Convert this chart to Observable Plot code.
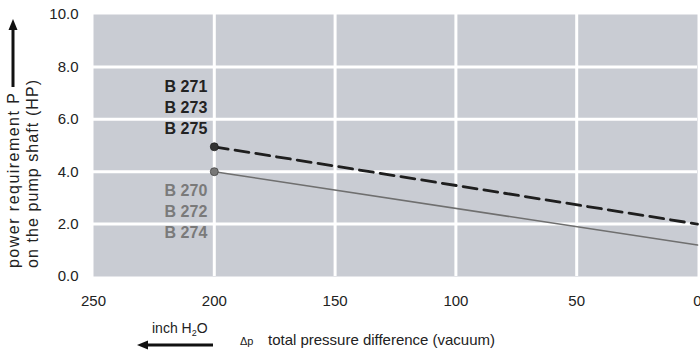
<!DOCTYPE html>
<html><head><meta charset="utf-8">
<script src="https://cdn.jsdelivr.net/npm/d3@7"></script>
<script src="https://cdn.jsdelivr.net/npm/@observablehq/plot@0.6"></script>
<style>body{margin:0;background:#fff}</style>
</head><body><div id="chart"></div>
<script>
const xTicks = [250, 200, 150, 100, 50, 0];
const yTicks = [0, 2, 4, 6, 8, 10];
const pressure = [200, 0];
const powerUpper = [4.95, 2.0];   // B 271 / 273 / 275
const powerLower = [4.0, 1.2];    // B 270 / 272 / 274
const labelUpper = "B 271\nB 273\nB 275";
const labelLower = "B 270\nB 272\nB 274";

const upper = pressure.map((p, i) => ({p, v: powerUpper[i]}));
const lower = pressure.map((p, i) => ({p, v: powerLower[i]}));

const font = "'Liberation Sans', Arial, sans-serif";
const plot = Plot.plot({
  width: 700, height: 353,
  marginLeft: 93, marginRight: 3, marginTop: 14, marginBottom: 77,
  style: {fontFamily: font, fontSize: "15px", color: "#222", background: "#fff"},
  x: {domain: [250, 0], ticks: xTicks, label: null},
  y: {domain: [0, 10], ticks: yTicks, label: null},
  marks: [
    Plot.frame({fill: "#c9ccd3", stroke: null}),
    Plot.gridX(xTicks.filter(d => d > 0 && d < 250), {stroke: "#fff", strokeWidth: 3, strokeOpacity: 1}),
    Plot.gridY(yTicks.filter(d => d > 0 && d < 10), {stroke: "#fff", strokeWidth: 3, strokeOpacity: 1}),
    Plot.axisX({ticks: xTicks, tickSize: 0, tickPadding: 19, fontSize: 15, fill: "#222", label: null}),
    Plot.axisY({ticks: yTicks, tickSize: 0, tickPadding: 15, tickFormat: d3.format(".1f"), fontSize: 15, fill: "#222", label: null}),
    Plot.line(lower, {x: "p", y: "v", stroke: "#6f6f6f", strokeWidth: 1.6}),
    Plot.line(upper, {x: "p", y: "v", stroke: "#1e1e1e", strokeWidth: 2.8, strokeDasharray: "14,7"}),
    Plot.dot([lower[0]], {x: "p", y: "v", r: 4, fill: "#777", stroke: "#444", strokeWidth: 0.8}),
    Plot.dot([upper[0]], {x: "p", y: "v", r: 4, fill: "#333", stroke: "#222", strokeWidth: 0.8}),
    Plot.text([labelUpper], {x: 200, y: 6.5, text: d => d, textAnchor: "end", dx: -7, lineHeight: 1.3, fontWeight: "bold", fontSize: 16, fill: "#222"}),
    Plot.text([labelLower], {x: 200, y: 2.52, text: d => d, textAnchor: "end", dx: -7, lineHeight: 1.3, fontWeight: "bold", fontSize: 16, fill: "#7a7a7a"})
  ]
});
document.getElementById("chart").appendChild(plot);

const svg = d3.select(plot);
svg.style("overflow", "visible");
const g = svg.append("g").attr("font-family", font).attr("fill", "#222").attr("text-anchor", "start");
// y-axis title
g.append("text").attr("transform", "translate(19,268) rotate(-90)").attr("font-size", 16)
  .attr("textLength", 175).attr("lengthAdjust", "spacing").text("power requirement P");
g.append("text").attr("transform", "translate(38,268) rotate(-90)").attr("font-size", 16)
  .attr("textLength", 188).attr("lengthAdjust", "spacing").text("on the pump shaft (HP)");
g.append("line").attr("x1", 13).attr("x2", 13).attr("y1", 87).attr("y2", 28).attr("stroke", "#111").attr("stroke-width", 3);
g.append("path").attr("d", "M13,19 L8.5,30 L17.5,30 Z").attr("fill", "#111");
// x-axis title
const t1 = g.append("text").attr("x", 152).attr("y", 333).attr("font-size", 14);
t1.append("tspan").text("inch H");
t1.append("tspan").attr("font-size", 9).attr("dy", 3).text("2");
t1.append("tspan").attr("dy", -3).text("O");
g.append("line").attr("x1", 213).attr("x2", 146).attr("y1", 345).attr("y2", 345).attr("stroke", "#111").attr("stroke-width", 3);
g.append("path").attr("d", "M137,345 L148,340.5 L148,349.5 Z").attr("fill", "#111");
g.append("text").attr("x", 240).attr("y", 345).attr("font-size", 11).text("Δp");
g.append("text").attr("x", 268).attr("y", 345).attr("font-size", 15)
  .attr("textLength", 227).attr("lengthAdjust", "spacing").text("total pressure difference (vacuum)");
</script></body></html>
